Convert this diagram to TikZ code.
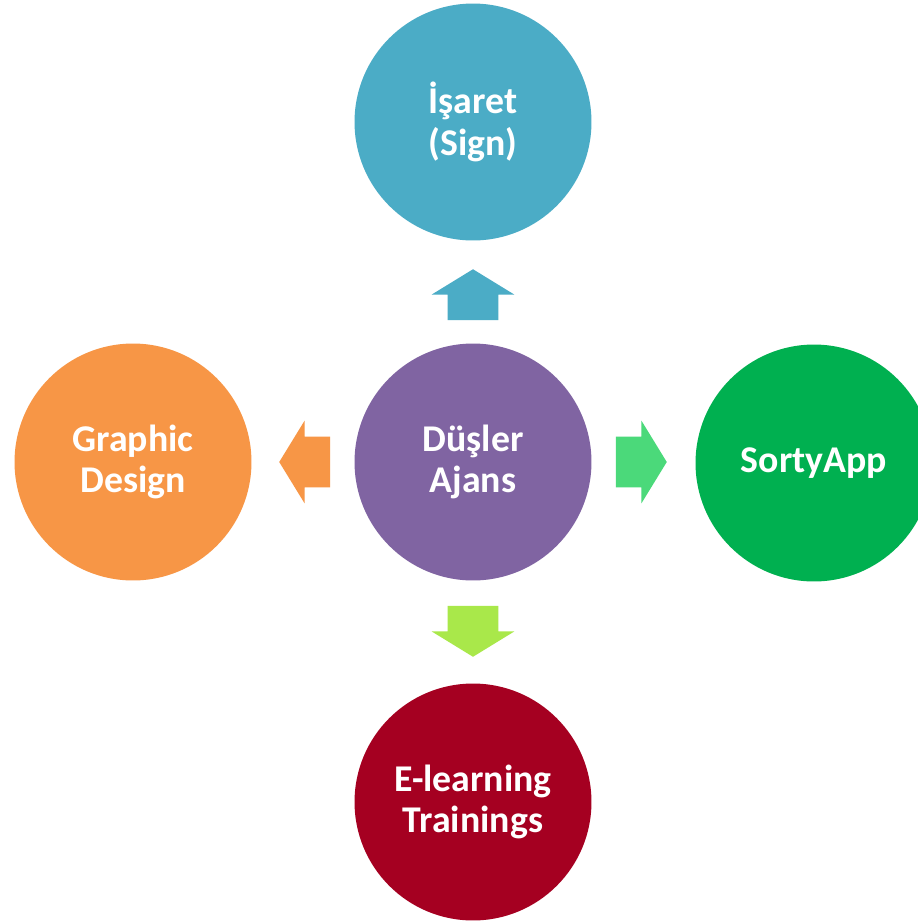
\documentclass[tikz,border=0pt]{standalone}
\usepackage{fontspec}
\setmainfont{Carlito}
\usepackage{xcolor}
\usetikzlibrary{shapes.arrows}
\definecolor{signteal}{RGB}{75, 172, 198}
\definecolor{hubpurple}{RGB}{128, 100, 162}
\definecolor{designorange}{RGB}{247, 150, 70}
\definecolor{sortygreen}{RGB}{0, 176, 80}
\definecolor{learnred}{RGB}{165, 0, 33}
\definecolor{arrowgreen}{RGB}{75, 217, 122}
\definecolor{arrowlime}{RGB}{169, 232, 74}

\begin{document}
\begin{tikzpicture}[
    x=0.02cm, y=-0.02cm,
    bubble/.style={circle, minimum size=4.74cm, inner sep=0pt, text=white, align=center, font=\fontsize{21.5}{23.5}\selectfont\bfseries},
    blockarrow/.style={single arrow, draw=none, minimum height=1.02cm, minimum width=0pt, inner xsep=0pt, inner ysep=0.5cm, single arrow head extend=0.32cm, single arrow tip angle=117}
  ]
    \useasboundingbox[fill=white] (0,0) rectangle (918,921);

    \node[bubble, fill=hubpurple] (hub) at (473,462) {Düşler\\Ajans};
    \node[bubble, fill=signteal] (sign) at (473,122) {İşaret\\(Sign)};
    \node[bubble, fill=designorange] (design) at (133,462) {Graphic\\Design};
    \node[bubble, fill=sortygreen] (sorty) at (814,463) {SortyApp};
    \node[bubble, fill=learnred] (learn) at (473,802) {E-learning\\Trainings};

    \node[blockarrow, fill=signteal, rotate=90] (toSign) at (473,302.5) {};
    \node[blockarrow, fill=arrowgreen] (toSorty) at (633.5,462) {};
    \node[blockarrow, fill=arrowlime, rotate=270] (toLearn) at (473,623.5) {};
    \node[blockarrow, fill=designorange, rotate=180] (toDesign) at (312.5,462) {};
  \end{tikzpicture}
\end{document}
